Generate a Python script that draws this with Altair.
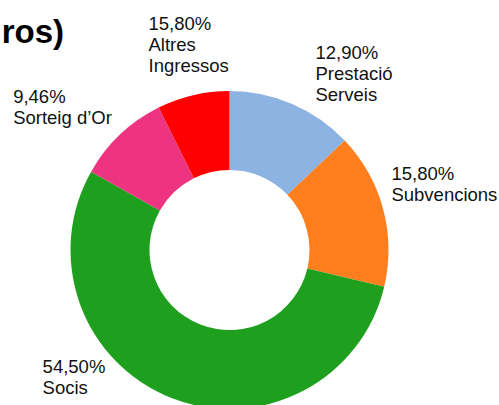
import altair as alt
import pandas as pd

categories = ["Prestació Serveis", "Subvencions", "Socis", "Sorteig d’Or", "Altres Ingressos"]
values = [12.90, 15.80, 54.50, 9.46, 7.34]
pct_labels = ["12,90%", "15,80%", "54,50%", "9,46%", "15,80%"]
name_lines = ["Prestació\nServeis", "Subvencions", "Socis", "Sorteig d’Or", "Altres\nIngressos"]
colors = ["#8DB3E2", "#FF7F1F", "#1EA01E", "#EE3380", "#FF0000"]
title_text = "Ingressos (euros)"

df = pd.DataFrame({
    "cat": categories,
    "value": values,
    "order": list(range(len(categories))),
    "label": [p + "\n" + n for p, n in zip(pct_labels, name_lines)],
})

CX, CY = 229.5, 250

base = alt.Chart(df).encode(
    theta=alt.Theta("value:Q", stack=True),
    order=alt.Order("order:Q", sort="ascending"),
)

arc = base.mark_arc(outerRadius=159, innerRadius=80, stroke=None).encode(
    color=alt.Color("cat:N", scale=alt.Scale(domain=categories, range=colors), legend=None),
    x=alt.value(CX), y=alt.value(CY),
)

offsets = {
    "Prestació Serveis": (17, -30),
    "Subvencions": (-7, -24),
    "Socis": (-123, -40),
    "Sorteig d’Or": (-96, -20),
    "Altres Ingressos": (-41, -50),
}

layers = [arc]
for c in categories:
    dx, dy = offsets[c]
    layers.append(
        base.mark_text(radius=175, align="left", baseline="alphabetic", lineBreak="\n",
                       lineHeight=21, fontSize=18.5, font="Liberation Sans", color="#111111",
                       dx=dx, dy=dy)
        .encode(
            x=alt.value(CX), y=alt.value(CY),
            text=alt.Text("label:N"),
            opacity=alt.condition("datum.cat === " + repr(c), alt.value(1), alt.value(0)),
        )
    )

title = alt.Chart(pd.DataFrame({"t": [title_text]})).mark_text(
    align="right", baseline="alphabetic", fontSize=33, fontWeight="bold",
    font="Liberation Sans", color="#000000"
).encode(x=alt.value(64), y=alt.value(43), text="t:N")
layers.append(title)

chart = alt.layer(*layers).properties(
    width=499, height=405,
    autosize=alt.AutoSizeParams(type="none"),
    padding=0,
).configure_view(stroke=None)

chart.save("out.html", embed_options={"renderer": "svg", "actions": False})
